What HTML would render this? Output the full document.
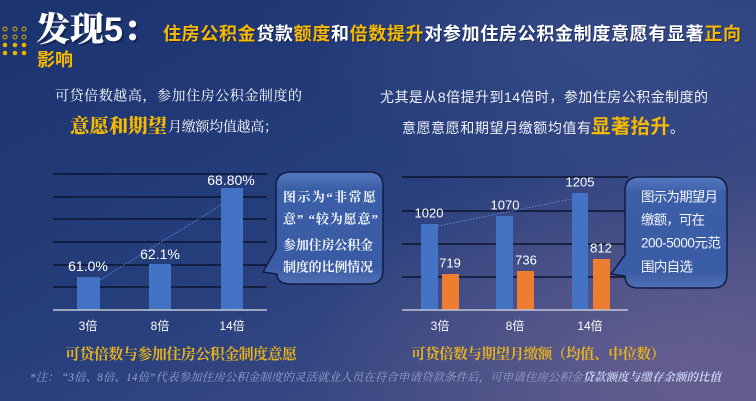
<!DOCTYPE html>
<html><head><meta charset="utf-8">
<style>
html,body{margin:0;padding:0;width:756px;height:401px;overflow:hidden;background:#213a78;}
svg{display:block;}
.sans{font-family:"Liberation Sans","Noto Sans CJK SC",sans-serif;}
.serif{font-family:"Liberation Serif","Noto Serif CJK SC",serif;}
</style></head>
<body>
<svg width="756" height="401" viewBox="0 0 756 401" xmlns="http://www.w3.org/2000/svg">
<defs>
  <linearGradient id="bg" x1="0" y1="0" x2="1" y2="1">
    <stop offset="0" stop-color="#1b336f"/>
    <stop offset="0.45" stop-color="#253e7c"/>
    <stop offset="0.8" stop-color="#3d4b84"/>
    <stop offset="1" stop-color="#5a5689"/>
  </linearGradient>
  <radialGradient id="glow1" cx="0.9" cy="0.9" r="0.5">
    <stop offset="0" stop-color="#6a6090" stop-opacity="0.8"/>
    <stop offset="1" stop-color="#6a6090" stop-opacity="0"/>
  </radialGradient>
  <radialGradient id="glow2" cx="0.8" cy="0.1" r="0.4">
    <stop offset="0" stop-color="#3c4f8a" stop-opacity="0.7"/>
    <stop offset="1" stop-color="#3c4f8a" stop-opacity="0"/>
  </radialGradient>
  <linearGradient id="cb" x1="0" y1="0" x2="0" y2="1">
    <stop offset="0" stop-color="#5578c0"/>
    <stop offset="0.15" stop-color="#3b5ea8"/>
    <stop offset="0.85" stop-color="#3a5ca5"/>
    <stop offset="1" stop-color="#5070b5"/>
  </linearGradient>
</defs>
<rect width="756" height="401" fill="url(#bg)"/>
<rect width="756" height="401" fill="url(#glow1)"/>
<rect width="756" height="401" fill="url(#glow2)"/>

<!-- dots -->
<g fill="none" stroke="#e0a800" stroke-width="1">
  <circle cx="5" cy="29" r="2"/><circle cx="15" cy="29" r="2"/><circle cx="24" cy="29" r="2"/>
  <circle cx="5" cy="37" r="2"/><circle cx="15" cy="37" r="2"/><circle cx="24" cy="37" r="2"/>
</g>
<g fill="#f0b400">
  <circle cx="5" cy="45" r="2.3"/><circle cx="15" cy="45" r="2.3"/><circle cx="24" cy="45" r="2.3"/>
  <circle cx="5" cy="53" r="2.3"/><circle cx="15" cy="53" r="2.3"/><circle cx="24" cy="53" r="2.3"/>
</g>

<!-- header -->
<text x="38" y="43" class="serif" font-size="34" font-weight="900" fill="#0d1a40" opacity="0.6">发现<tspan class="sans" font-family="Liberation Sans" font-weight="700">5</tspan>：</text>
<text x="36" y="41" class="serif" font-size="34" font-weight="900" fill="#ffffff">发现<tspan font-family="Liberation Sans" font-weight="700">5</tspan>：</text>

<text x="164" y="41" class="sans" font-size="18" font-weight="700" fill="#0d1a40" opacity="0.6" textLength="578" lengthAdjust="spacing">住房公积金贷款额度和倍数提升对参加住房公积金制度意愿有显著正向</text>
<text x="163" y="40" class="sans" font-size="18" font-weight="700" fill="#ffffff" textLength="578" lengthAdjust="spacing"><tspan fill="#f7b900">住房公积金</tspan>贷款<tspan fill="#f7b900">额度</tspan>和<tspan fill="#f7b900">倍数提升</tspan>对参加住房公积金制度意愿有显著<tspan fill="#f7b900">正向</tspan></text>
<text x="37" y="66" class="sans" font-size="18" font-weight="700" fill="#f7b900">影响</text>

<!-- paragraphs -->
<text x="55" y="97" dominant-baseline="central" class="serif" font-size="14" fill="#ffffff" textLength="247" lengthAdjust="spacing">可贷倍数越高，参加住房公积金制度的</text>
<text x="70" y="127" dominant-baseline="central" class="serif" font-size="19.5" font-weight="900" fill="#f7b900" textLength="97" lengthAdjust="spacing">意愿和期望</text>
<text x="168" y="128" dominant-baseline="central" class="serif" font-size="14" fill="#ffffff" textLength="110" lengthAdjust="spacing">月缴额均值越高；</text>

<text x="380" y="97" dominant-baseline="central" class="sans" font-size="14" fill="#f0f0f8" textLength="328" lengthAdjust="spacing">尤其是从8倍提升到14倍时，参加住房公积金制度的</text>
<text x="402" y="128" dominant-baseline="central" class="sans" font-size="14" fill="#f0f0f8" textLength="189" lengthAdjust="spacing">意愿意愿和期望月缴额均值有</text>
<text x="591" y="127" dominant-baseline="central" class="sans" font-size="19.5" font-weight="700" fill="#f7b900" textLength="79" lengthAdjust="spacing">显著抬升</text>
<text x="670" y="128" dominant-baseline="central" class="sans" font-size="14" fill="#f0f0f8">。</text>

<!-- left chart -->
<g stroke="#0c142e" stroke-width="1.4">
  <line x1="53" y1="174" x2="267" y2="174"/>
  <line x1="53" y1="197" x2="267" y2="197"/>
  <line x1="53" y1="219" x2="267" y2="219"/>
  <line x1="53" y1="242" x2="267" y2="242"/>
  <line x1="53" y1="265" x2="267" y2="265"/>
  <line x1="53" y1="287" x2="267" y2="287"/>
</g>
<g fill="#4472c4">
  <rect x="77" y="277" width="23" height="33"/>
  <rect x="149" y="264" width="22" height="46"/>
  <rect x="221" y="188" width="22" height="122"/>
</g>
<line x1="53" y1="310" x2="267" y2="310" stroke="#c4c6d2" stroke-width="1.5"/>
<line x1="100" y1="280" x2="221" y2="205" stroke="#5f86d6" stroke-width="1" stroke-dasharray="1.5,1.5"/>
<g class="sans" font-size="14" fill="#ffffff" text-anchor="middle" dominant-baseline="central">
  <text x="88" y="266">61.0%</text>
  <text x="160" y="254">62.1%</text>
  <text x="231" y="180">68.80%</text>
</g>
<g class="sans" font-size="12" fill="#ffffff" text-anchor="middle" dominant-baseline="central">
  <text x="88" y="326">3倍</text>
  <text x="160" y="326">8倍</text>
  <text x="232" y="326">14倍</text>
</g>

<!-- left callout -->
<path d="M291,172 H369 Q383,172 383,186 V270 Q383,284 369,284 H291 Q277,284 277,274 L263,272 L276,249 V186 Q276,172 291,172 Z" fill="url(#cb)" stroke="#121c44" stroke-width="1.5"/>
<g class="serif" font-size="13" font-weight="700" fill="#f2f4fa" dominant-baseline="central">
  <text x="283" y="197" textLength="93" lengthAdjust="spacing">图示为“非常愿</text>
  <text x="283" y="219" textLength="95" lengthAdjust="spacing">意”  “较为愿意”</text>
  <text x="283" y="245" textLength="90" lengthAdjust="spacing">参加住房公积金</text>
  <text x="283" y="267" textLength="90" lengthAdjust="spacing">制度的比例情况</text>
</g>

<!-- right chart -->
<g stroke="#0c142e" stroke-width="1.4">
  <line x1="402" y1="177" x2="628" y2="177"/>
  <line x1="402" y1="211" x2="628" y2="211"/>
  <line x1="402" y1="244" x2="628" y2="244"/>
  <line x1="402" y1="277" x2="628" y2="277"/>
</g>
<g fill="#4472c4">
  <rect x="421" y="224" width="17" height="86"/>
  <rect x="496" y="216" width="17" height="94"/>
  <rect x="572" y="193" width="16" height="117"/>
</g>
<g fill="#ed7d31">
  <rect x="442" y="274" width="17" height="36"/>
  <rect x="517" y="271" width="17" height="39"/>
  <rect x="593" y="259" width="17" height="51"/>
</g>
<line x1="402" y1="310" x2="628" y2="310" stroke="#c4c6d2" stroke-width="1.5"/>
<line x1="438" y1="226" x2="571" y2="199" stroke="#5f86d6" stroke-width="1" stroke-dasharray="1.5,1.5"/>
<g class="sans" font-size="13" fill="#ffffff" text-anchor="middle" dominant-baseline="central">
  <text x="429" y="213">1020</text>
  <text x="450" y="263">719</text>
  <text x="505" y="205">1070</text>
  <text x="526" y="260">736</text>
  <text x="580" y="182">1205</text>
  <text x="601" y="248">812</text>
</g>
<g class="sans" font-size="12" fill="#ffffff" text-anchor="middle" dominant-baseline="central">
  <text x="440" y="326">3倍</text>
  <text x="515" y="326">8倍</text>
  <text x="590" y="326">14倍</text>
</g>

<!-- right callout -->
<path d="M639,177 H713 Q727,177 727,191 V274 Q727,288 713,288 H639 Q625,288 625,276 L611,274 L625,255 V191 Q625,177 639,177 Z" fill="url(#cb)" stroke="#121c44" stroke-width="1.5"/>
<g class="sans" font-size="13.5" fill="#f2f4fa" dominant-baseline="central">
  <text x="641" y="197" textLength="77" lengthAdjust="spacing">图示为期望月</text>
  <text x="641" y="220" textLength="64" lengthAdjust="spacing">缴额，可在</text>
  <text x="641" y="243" textLength="80" lengthAdjust="spacing">200-5000元范</text>
  <text x="641" y="267" textLength="52" lengthAdjust="spacing">围内自选</text>
</g>

<!-- captions -->
<text x="65" y="355" dominant-baseline="central" class="serif" font-size="15" font-weight="700" fill="#e8b21c" textLength="232" lengthAdjust="spacing">可贷倍数与参加住房公积金制度意愿</text>
<text x="411" y="355" dominant-baseline="central" class="serif" font-size="14.5" font-weight="700" fill="#e8b21c" textLength="254" lengthAdjust="spacing">可贷倍数与期望月缴额（均值、中位数）</text>

<!-- footnote -->
<text x="30" y="378" dominant-baseline="central" class="serif" font-size="11.5" font-style="italic" fill="#93a3cc" textLength="691" lengthAdjust="spacing">*注：  “3倍、8倍、14倍”代表参加住房公积金制度的灵活就业人员在符合申请贷款条件后，可申请住房公积金<tspan font-weight="700" fill="#c4d2f0">贷款额度与缴存余额的比值</tspan></text>
</svg>
</body></html>
